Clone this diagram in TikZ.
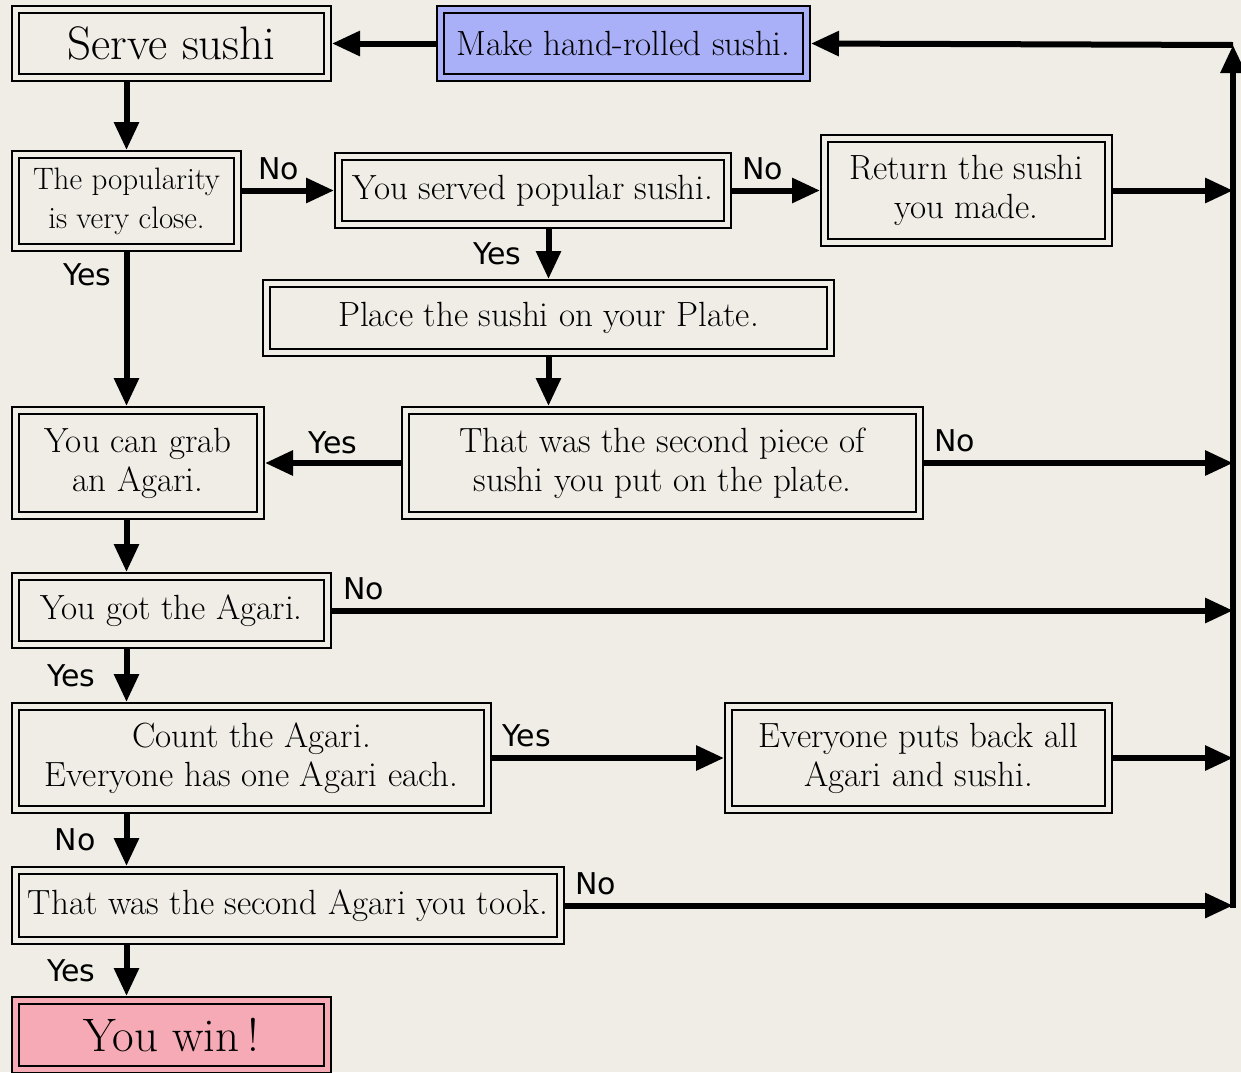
\documentclass[tikz,border=0pt]{standalone}
\usepackage{fontspec}
\newfontfamily\lblfont{DejaVu Sans}
\usetikzlibrary{arrows.meta,calc}
\definecolor{paper}{RGB}{240,237,231}
\definecolor{handblue}{RGB}{170,176,248}
\definecolor{winpink}{RGB}{246,170,182}
\tikzset{
  stepbox/.style={draw=black, line width=1pt, double=paper, double distance=2.5pt,
    fill=paper, outer sep=2.25pt, inner sep=0pt, align=center, minimum height=34pt,
    font=\fontsize{17.5}{19.5}\selectfont},
  bigtext/.style={font=\fontsize{23.5}{26}\selectfont},
  arr/.style={line width=3pt, -{Triangle[length=14pt,width=12pt]}},
  lbl/.style={font=\lblfont\fontsize{15}{17}\selectfont, inner sep=1pt},
}
\begin{document}
\begin{tikzpicture}[x=0.5pt,y=-0.5pt]
    \fill[paper] (0,0) rectangle (1241,1072);
    \useasboundingbox (0,0) rectangle (1241,1072);

    % boxes
    \node[stepbox, bigtext, minimum width=156pt] (serve) at (171.5,43.5) {Serve sushi};
    \node[stepbox, fill=handblue, double=handblue, minimum width=183pt] (make) at (623.5,43.5) {Make hand-rolled sushi.};
    \node[stepbox, minimum width=111pt, minimum height=46.5pt, font=\fontsize{15.5}{19.5}\selectfont] (pop) at (126.5,201) {The popularity\\is very close.};
    \node[stepbox, minimum width=194.5pt] (served) at (533,190.5) {You served popular sushi.};
    \node[stepbox, minimum width=142pt, minimum height=52pt] (ret) at (966.5,190.5) {Return the sushi\\you made.};
    \node[stepbox, minimum width=282pt, minimum height=34.5pt] (place) at (548.5,318) {Place the sushi on your Plate.};
    \node[stepbox, minimum width=122.5pt, minimum height=52.5pt] (grab) at (138,463) {You can grab\\an Agari.};
    \node[stepbox, minimum width=257pt, minimum height=52.5pt] (piece) at (662.5,463) {That was the second piece of\\sushi you put on the plate.};
    \node[stepbox, minimum width=156pt] (got) at (171.5,610.5) {You got the Agari.};
    \node[stepbox, minimum width=236pt, minimum height=51.5pt] (count) at (251.5,758) {Count the Agari.\\Everyone has one Agari each.};
    \node[stepbox, minimum width=190pt, minimum height=51.5pt] (back) at (918.5,758) {Everyone puts back all\\Agari and sushi.};
    \node[stepbox, minimum width=272.5pt, minimum height=35pt] (second) at (288,905.5) {That was the second Agari you took.};
    \node[stepbox, bigtext, fill=winpink, double=winpink, minimum width=156pt, minimum height=34.5pt] (win) at (171.5,1035) {You win\,!};

    \coordinate (bustop) at (1233,45);
    \coordinate (busbot) at (1233,908);

    % arrows
    \draw[arr] (make.west) -- (serve.east);
    \draw[arr] (pop.north |- serve.south) -- (pop.north);
    \draw[arr] (pop.east |- served.west) -- node[lbl,above=3pt,pos=0.4]{No} (served.west);
    \draw[arr] (served.east) -- node[lbl,above=3pt,pos=0.35]{No} (ret.west);
    \draw[arr] (served.south -| place.north) -- node[lbl,left=11pt]{Yes} (place.north);
    \draw[arr] (pop.south) -- node[lbl,left=5pt,pos=0.15]{Yes} (pop.south |- grab.north);
    \draw[arr] (place.south) -- (place.south |- piece.north);
    \draw[arr] (piece.west) -- node[lbl,above=2pt]{Yes} (grab.east);
    \draw[arr] (piece.east) -- node[lbl,above=3pt,pos=0.1]{No} (piece.east -| bustop);
    \draw[arr] (pop.south |- grab.south) -- (pop.south |- got.north);
    \draw[arr] (got.east) -- node[lbl,above=3pt,pos=0.035]{No} (got.east -| bustop);
    \draw[arr] (pop.south |- got.south) -- node[lbl,left=13pt]{Yes} (pop.south |- count.north);
    \draw[arr] (count.east) -- node[lbl,above=3pt,pos=0.15]{Yes} (back.west);
    \draw[arr] (back.east) -- (back.east -| bustop);
    \draw[arr] (ret.east) -- (ret.east -| bustop);
    \draw[arr] (pop.south |- count.south) -- node[lbl,left=13pt]{No} (pop.south |- second.north);
    \draw[arr] (second.east) -- node[lbl,above=3pt,pos=0.046]{No} (second.east -| bustop);
    \draw[arr] (pop.south |- second.south) -- node[lbl,left=13pt]{Yes} (pop.south |- win.north);
    \draw[arr] (busbot) -- (bustop);
    \draw[arr] (bustop) -- (make.east);
\end{tikzpicture}
\end{document}
